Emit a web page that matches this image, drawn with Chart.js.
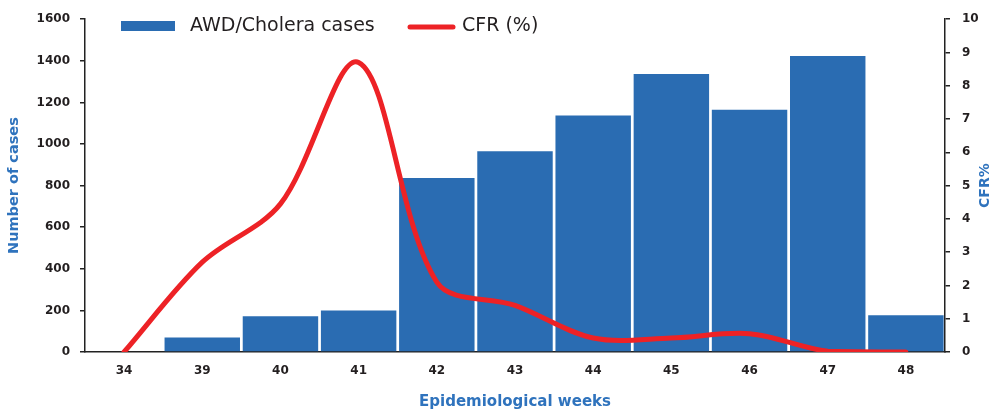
<!DOCTYPE html>
<html>
<head>
<meta charset="utf-8">
<script src="https://cdn.jsdelivr.net/npm/chart.js@4/dist/chart.umd.min.js"></script>
<style>
  body { margin: 0; background: #fff; }
  #wrap { width: 993px; height: 411px; }
</style>
</head>
<body>
<div id="wrap"><canvas id="chart" width="993" height="411"></canvas></div>
<script>
// Data
const weeks = ["34", "39", "40", "41", "42", "43", "44", "45", "46", "47", "48"];
const cases = [0, 70, 172, 200, 836, 965, 1137, 1337, 1165, 1423, 177];
const cfr = [0, 2.7, 4.45, 8.7, 2.1, 1.4, 0.42, 0.42, 0.55, 0.02, 0];
const casesTicks = [0, 200, 400, 600, 800, 1000, 1200, 1400, 1600];
const cfrTicks = [0, 1, 2, 3, 4, 5, 6, 7, 8, 9, 10];

const barBlue = "#2a6cb2";
const lineRed = "#ed2226";
const titleBlue = "#2f73bd";
const textDark = "#231f20";
const fontFam = "'DejaVu Sans', 'Open Sans', sans-serif";

// Legend overlaid on the plot + right-hand rotated axis title
const overlay = {
    id: "overlay",
    afterDraw(chart) {
        const ctx = chart.ctx;
        ctx.save();
        ctx.fillStyle = barBlue;
        ctx.fillRect(121, 21, 54, 10);
        ctx.font = "19px " + fontFam;
        ctx.fillStyle = textDark;
        ctx.textBaseline = "middle";
        ctx.fillText(chart.data.datasets[0].label, 190, 26);

        ctx.strokeStyle = lineRed;
        ctx.lineWidth = 5;
        ctx.lineCap = "round";
        ctx.beginPath();
        ctx.moveTo(410, 27);
        ctx.lineTo(453, 27);
        ctx.stroke();
        ctx.fillText(chart.data.datasets[1].label, 462, 26);

        // right axis title, reads bottom to top
        ctx.translate(985, (chart.chartArea.top + chart.chartArea.bottom) / 2);
        ctx.rotate(-Math.PI / 2);
        ctx.textAlign = "center";
        ctx.fillStyle = titleBlue;
        ctx.font = "bold 14px " + fontFam;
        ctx.fillText("CFR%", 0, 0);
        ctx.restore();
    }
};

const tickFont = { family: fontFam, size: 12, weight: "bold" };

new Chart(document.getElementById("chart"), {
    data: {
        labels: weeks,
        datasets: [
            {
                type: "bar",
                label: "AWD/Cholera cases",
                data: cases,
                yAxisID: "y",
                backgroundColor: barBlue,
                barPercentage: 0.965,
                categoryPercentage: 1,
                order: 1
            },
            {
                type: "line",
                label: "CFR (%)",
                data: cfr,
                yAxisID: "y2",
                borderColor: lineRed,
                borderWidth: 5,
                borderCapStyle: "round",
                pointRadius: 0,
                tension: 0.33,
                order: 0
            }
        ]
    },
    options: {
        responsive: false,
        animation: false,
        layout: { padding: { top: 17, left: 0, right: 0, bottom: 0 } },
        plugins: { legend: { display: false }, tooltip: { enabled: false } },
        scales: {
            x: {
                afterFit: s => { s.height = 59; },
                grid: { display: false, drawTicks: false },
                border: { color: "#222", width: 1.5 },
                ticks: { font: tickFont, color: textDark, padding: 12, maxRotation: 0 },
                title: {
                    display: true,
                    text: "Epidemiological weeks",
                    color: titleBlue,
                    font: { family: fontFam, size: 15, weight: "bold" },
                    padding: { top: 0, bottom: 0 }
                }
            },
            y: {
                position: "left",
                min: 0,
                max: 1600,
                afterBuildTicks: s => { s.ticks = casesTicks.map(v => ({ value: v })); },
                afterFit: s => { s.width = 85; },
                grid: { drawOnChartArea: false, tickLength: 5, color: "#222", lineWidth: 1.5 },
                border: { color: "#222", width: 1.5 },
                ticks: { font: tickFont, color: textDark, padding: 10, callback: v => String(v) },
                title: {
                    display: true,
                    text: "Number of cases",
                    color: titleBlue,
                    font: { family: fontFam, size: 14.5, weight: "bold" },
                    padding: { top: 6, bottom: 0 }
                }
            },
            y2: {
                position: "right",
                min: 0,
                max: 10,
                afterBuildTicks: s => { s.ticks = cfrTicks.map(v => ({ value: v })); },
                afterFit: s => { s.width = 48; },
                grid: { drawOnChartArea: false, tickLength: 5, color: "#222", lineWidth: 1.5 },
                border: { color: "#222", width: 1.5 },
                ticks: { font: tickFont, color: textDark, padding: 12, callback: v => String(v) }
            }
        }
    },
    plugins: [overlay]
});
</script>
</body>
</html>
